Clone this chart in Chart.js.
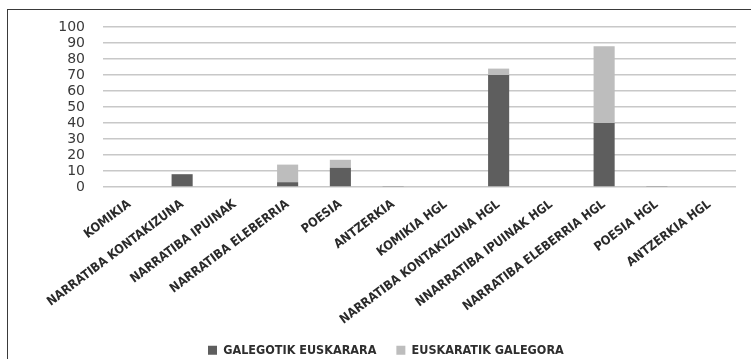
<!DOCTYPE html>
<html>
<head>
<meta charset="utf-8">
<script src="https://cdn.jsdelivr.net/npm/chart.js@4"></script>
<style>
  html, body { margin: 0; padding: 0; background: #ffffff; overflow: hidden; }
  #wrap { position: relative; width: 751px; height: 359px; }
  #frame { position: absolute; left: 7px; top: 9px; width: 800px; height: 400px;
           border: 1.5px solid #3a3a3a; box-sizing: border-box; pointer-events: none; }
  canvas { position: absolute; left: 0; top: 0; }
</style>
</head>
<body>
<div id="wrap">
  <canvas id="c" width="751" height="359"></canvas>
  <div id="frame"></div>
</div>
<script>
const categories = [
  "KOMIKIA", "NARRATIBA KONTAKIZUNA", "NARRATIBA IPUINAK", "NARRATIBA ELEBERRIA",
  "POESIA", "ANTZERKIA", "KOMIKIA HGL", "NARRATIBA KONTAKIZUNA HGL",
  "NNARRATIBA IPUINAK HGL", "NARRATIBA ELEBERRIA HGL", "POESIA HGL", "ANTZERKIA HGL"
];
const seriesNames = ["GALEGOTIK EUSKARARA", "EUSKARATIK GALEGORA"];
const galegotikEuskarara = [0, 8, 0, 3, 12, 0.6, 0, 70, 0, 40, 0.6, 0];
const euskaratikGalegora = [0.5, 0, 0, 11, 5, 0, 0, 4, 0, 48, 0, 0];
const yMin = 0, yMax = 100, yStep = 10;

const frameFix = {
  id: 'frameFix',
  beforeLayout(chart) {
    const lg = chart.legend;
    if (lg && !lg._patched) {
      const f = lg.fit;
      lg.fit = function () { f.call(this); this.height = 35; };
      lg._patched = true;
    }
  },
  afterLayout(chart) {
    const lg = chart.legend;
    if (lg && lg.lineWidths) {
      lg.left = 2 * 208 - lg.right - 20 + lg.lineWidths[0];
    }
  }
};

new Chart(document.getElementById('c'), {
  type: 'bar',
  data: {
    labels: categories,
    datasets: [
      { label: seriesNames[0], data: galegotikEuskarara, backgroundColor: '#5e5e5e',
        borderWidth: 0, barPercentage: 0.4, categoryPercentage: 1 },
      { label: seriesNames[1], data: euskaratikGalegora, backgroundColor: '#bdbdbd',
        borderWidth: 0, barPercentage: 0.4, categoryPercentage: 1 }
    ]
  },
  options: {
    responsive: false,
    animation: false,
    devicePixelRatio: 1,
    layout: { padding: { left: 0, right: 15, top: 27, bottom: 0 } },
    plugins: {
      legend: {
        position: 'bottom',
        labels: {
          boxWidth: 9, boxHeight: 9, padding: 20, color: '#2e2e2e',
          font: { family: 'DejaVu Sans Condensed', weight: 'bold', size: 12.5 }
        }
      },
      tooltip: { enabled: false }
    },
    scales: {
      x: {
        stacked: true,
        grid: { display: false, drawTicks: false },
        border: { display: false },
        ticks: {
          autoSkip: false, minRotation: 37, maxRotation: 37, padding: 10,
          color: '#2a2a2a',
          font: { family: 'DejaVu Sans Condensed', weight: 'bold', size: 12.5 }
        },
        afterFit(scale) { scale.height = 137; }
      },
      y: {
        stacked: true,
        min: yMin, max: yMax,
        grid: { color: '#c8c8c8', lineWidth: 1.5, drawTicks: false },
        border: { display: false },
        ticks: {
          stepSize: yStep, autoSkip: false, padding: 18, color: '#3a3a3a',
          font: { family: 'DejaVu Sans', size: 14 }
        },
        afterFit(scale) { scale.width = 103; }
      }
    }
  },
  plugins: [frameFix]
});
</script>
</body>
</html>
